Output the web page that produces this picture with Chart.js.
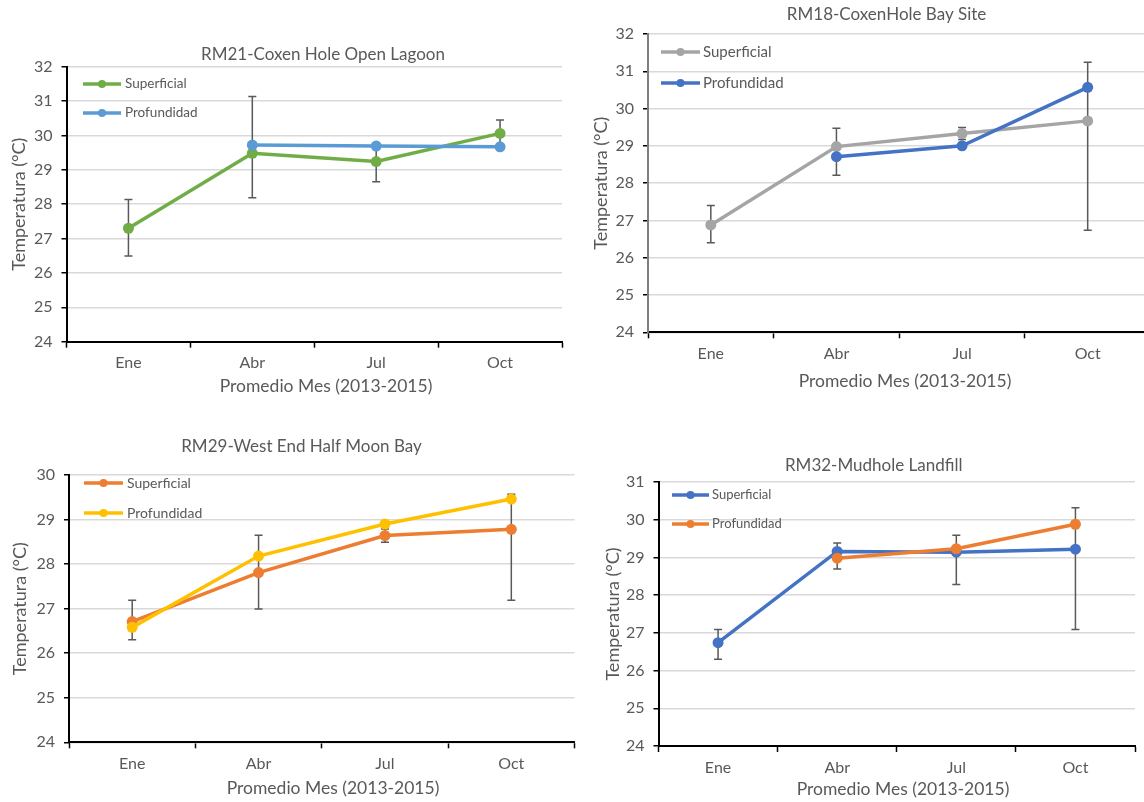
<!DOCTYPE html>
<html>
<head>
<meta charset="utf-8">
<script src="https://cdn.jsdelivr.net/npm/chart.js@4.4.1/dist/chart.umd.min.js"></script>
<style>
html, body { margin: 0; padding: 0; background: #fff; overflow: hidden; }
#wrap { position: relative; width: 1144px; height: 802px; overflow: hidden; }
canvas { position: absolute; }
</style>
</head>
<body>
<div id="wrap">
	<canvas id="rm21" width="572" height="400" style="left:0px;top:0px"></canvas>
	<canvas id="rm18" width="576" height="400" style="left:580px;top:0px"></canvas>
	<canvas id="rm29" width="580" height="382" style="left:0px;top:420px"></canvas>
	<canvas id="rm32" width="549" height="382" style="left:595px;top:420px"></canvas>
</div>
<script>
var months = ['Ene', 'Abr', 'Jul', 'Oct'];
var serieNames = ['Superficial', 'Profundidad'];

var rm21Sup = [27.30, 29.48, 29.24, 30.06];
var rm21Prof = [null, 29.72, 29.69, 29.67];
var rm21ErrHi = [28.14, 31.13, 29.62, 30.45];
var rm21ErrLo = [26.49, 28.19, 28.65, 29.67];

var rm18Sup = [26.88, 28.98, 29.33, 29.67];
var rm18Prof = [null, 28.71, 29.00, 30.57];
var rm18ErrHi = [27.40, 29.47, 29.49, 31.24];
var rm18ErrLo = [26.40, 28.21, 29.17, 26.74];

var rm29Sup = [26.71, 27.81, 28.64, 28.78];
var rm29Prof = [26.58, 28.18, 28.90, 29.46];
var rm29ErrHi = [27.19, 28.65, 28.79, 29.57];
var rm29ErrLo = [26.30, 26.99, 28.49, 27.19];

var rm32Sup = [26.74, 29.16, 29.14, 29.22];
var rm32Prof = [null, 28.98, 29.23, 29.88];
var rm32ErrHi = [27.09, 29.38, 29.59, 30.32];
var rm32ErrLo = [26.30, 28.69, 28.28, 27.09];

var xTitle = 'Promedio Mes (2013-2015)';
var yTitle = 'Temperatura (°C)';

var FONT = 'Lato';
var TXT = '#595959';

// error bars go under the lines
var errorBars = {
	id: 'errorBars',
	beforeDatasetsDraw: function(chart, args, opts) {
		var ctx = chart.ctx;
		var xs = chart.scales.x, ys = chart.scales.y;
		ctx.save();
		ctx.strokeStyle = '#595959';
		ctx.lineWidth = 1.5;
		for (var i = 0; i < opts.hi.length; i++) {
			var px = xs.getPixelForValue(i);
			var top = ys.getPixelForValue(opts.hi[i]);
			var bot = ys.getPixelForValue(opts.lo[i]);
			ctx.beginPath();
			ctx.moveTo(px, top); ctx.lineTo(px, bot);
			ctx.moveTo(px - 4, top); ctx.lineTo(px + 4, top);
			ctx.moveTo(px - 4, bot); ctx.lineTo(px + 4, bot);
			ctx.stroke();
		}
		ctx.restore();
	}
};

// legend drawn inside the plot, excel style
var insideLegend = {
	id: 'insideLegend',
	afterDraw: function(chart, args, opts) {
		var ctx = chart.ctx;
		ctx.save();
		chart.data.datasets.forEach(function(ds, i) {
			var y = opts.y[i];
			ctx.strokeStyle = ds.borderColor;
			ctx.lineWidth = 3.5;
			ctx.beginPath();
			ctx.moveTo(opts.x1, y); ctx.lineTo(opts.x2, y);
			ctx.stroke();
			ctx.fillStyle = ds.borderColor;
			ctx.beginPath();
			ctx.arc((opts.x1 + opts.x2) / 2, y, 4, 0, Math.PI * 2);
			ctx.fill();
			ctx.fillStyle = TXT;
			ctx.font = opts.size + 'px ' + FONT;
			ctx.textAlign = 'left';
			ctx.textBaseline = 'middle';
			ctx.fillText(ds.label, opts.tx, y);
		});
		ctx.restore();
	}
};

// chart title and x title sit off-centre in the original, so place them by hand
var panelText = {
	id: 'panelText',
	afterDraw: function(chart, args, opts) {
		var ctx = chart.ctx;
		ctx.save();
		ctx.fillStyle = TXT;
		ctx.textAlign = 'center';
		ctx.textBaseline = 'middle';
		ctx.font = '17px ' + FONT;
		ctx.fillText(opts.title, opts.tx, opts.ty);
		ctx.font = '17.5px ' + FONT;
		ctx.fillText(xTitle, opts.xx, opts.xy);
		ctx.restore();
	}
};

function serie(label, data, color, order) {
	return {
		label: label,
		data: data,
		borderColor: color,
		backgroundColor: color,
		borderWidth: 3.5,
		pointRadius: 5.5,
		pointBorderWidth: 0,
		pointBackgroundColor: color,
		tension: 0,
		order: order
	};
}

function makeChart(id, title, sup, prof, colors, hi, lo, yMax, lay) {
	var ctx = document.getElementById(id).getContext('2d');
	return new Chart(ctx, {
		type: 'line',
		data: {
			labels: months,
			datasets: [
				serie(serieNames[0], sup, colors[0], 2),
				serie(serieNames[1], prof, colors[1], 1)
			]
		},
		plugins: [errorBars, insideLegend, panelText],
		options: {
			responsive: false,
			animation: false,
			events: [],
			layout: { padding: { left: 0, right: lay.padR, top: lay.padT, bottom: 0 } },
			plugins: {
				legend: { display: false },
				tooltip: { enabled: false },
				title: { display: false },
				errorBars: { hi: hi, lo: lo },
				insideLegend: lay.legend,
				panelText: { title: title, tx: lay.tx, ty: lay.ty, xx: lay.xx, xy: lay.xy }
			},
			scales: {
				x: {
					offset: true,
					grid: { offset: true, drawOnChartArea: false, tickLength: 6, tickColor: '#000', tickWidth: 1.5 },
					border: { color: '#000', width: 2 },
					ticks: { color: TXT, font: { family: FONT, size: 16 }, padding: 6 },
					afterFit: function(s) { s.height = lay.xH; }
				},
				y: {
					min: 24,
					max: yMax,
					ticks: { stepSize: 1, color: TXT, font: { family: FONT, size: 16 }, padding: 9 },
					grid: { color: '#D9D9D9', lineWidth: 1.5, tickColor: '#000', tickLength: 5 },
					border: { color: lay.yAxisColor, width: 2 },
					title: {
						display: true,
						text: yTitle,
						color: TXT,
						font: { family: FONT, size: 18 },
						padding: { top: lay.ytP, bottom: 0 }
					},
					afterFit: function(s) { s.width = lay.yW; }
				}
			}
		}
	});
}

makeChart('rm21', 'RM21-Coxen Hole Open Lagoon', rm21Sup, rm21Prof, ['#70AD47', '#5B9BD5'], rm21ErrHi, rm21ErrLo, 32, {
	padR: 10, padT: 66.7, yW: 66.5, xH: 58.3, ytP: 8, yAxisColor: '#000',
	tx: 323, ty: 55, xx: 326, xy: 386.7,
	legend: { x1: 83, x2: 121, tx: 125, y: [84, 113], size: 13.5 }
});

makeChart('rm18', 'RM18-CoxenHole Bay Site', rm18Sup, rm18Prof, ['#A5A5A5', '#4472C4'], rm18ErrHi, rm18ErrLo, 32, {
	padR: 0, padT: 34, yW: 68, xH: 67.7, ytP: 10, yAxisColor: '#7F7F7F',
	tx: 306.6, ty: 15, xx: 325, xy: 381,
	legend: { x1: 81, x2: 120, tx: 123, y: [52, 83], size: 15 }
});

makeChart('rm29', 'RM29-West End Half Moon Bay', rm29Sup, rm29Prof, ['#ED7D31', '#FFC000'], rm29ErrHi, rm29ErrLo, 30, {
	padR: 3, padT: 55, yW: 69, xH: 59.7, ytP: 9, yAxisColor: '#000',
	tx: 301.5, ty: 26.7, xx: 333, xy: 368.3,
	legend: { x1: 84, x2: 123, tx: 127, y: [63, 93], size: 14 }
});

makeChart('rm32', 'RM32-Mudhole Landfill', rm32Sup, rm32Prof, ['#4472C4', '#ED7D31'], rm32ErrHi, rm32ErrLo, 31, {
	padR: 9, padT: 62, yW: 63.5, xH: 56, ytP: 7, yAxisColor: '#000',
	tx: 278.7, ty: 45.7, xx: 308, xy: 369.3,
	legend: { x1: 77, x2: 114, tx: 117, y: [75, 104], size: 13 }
});
</script>
</body>
</html>
